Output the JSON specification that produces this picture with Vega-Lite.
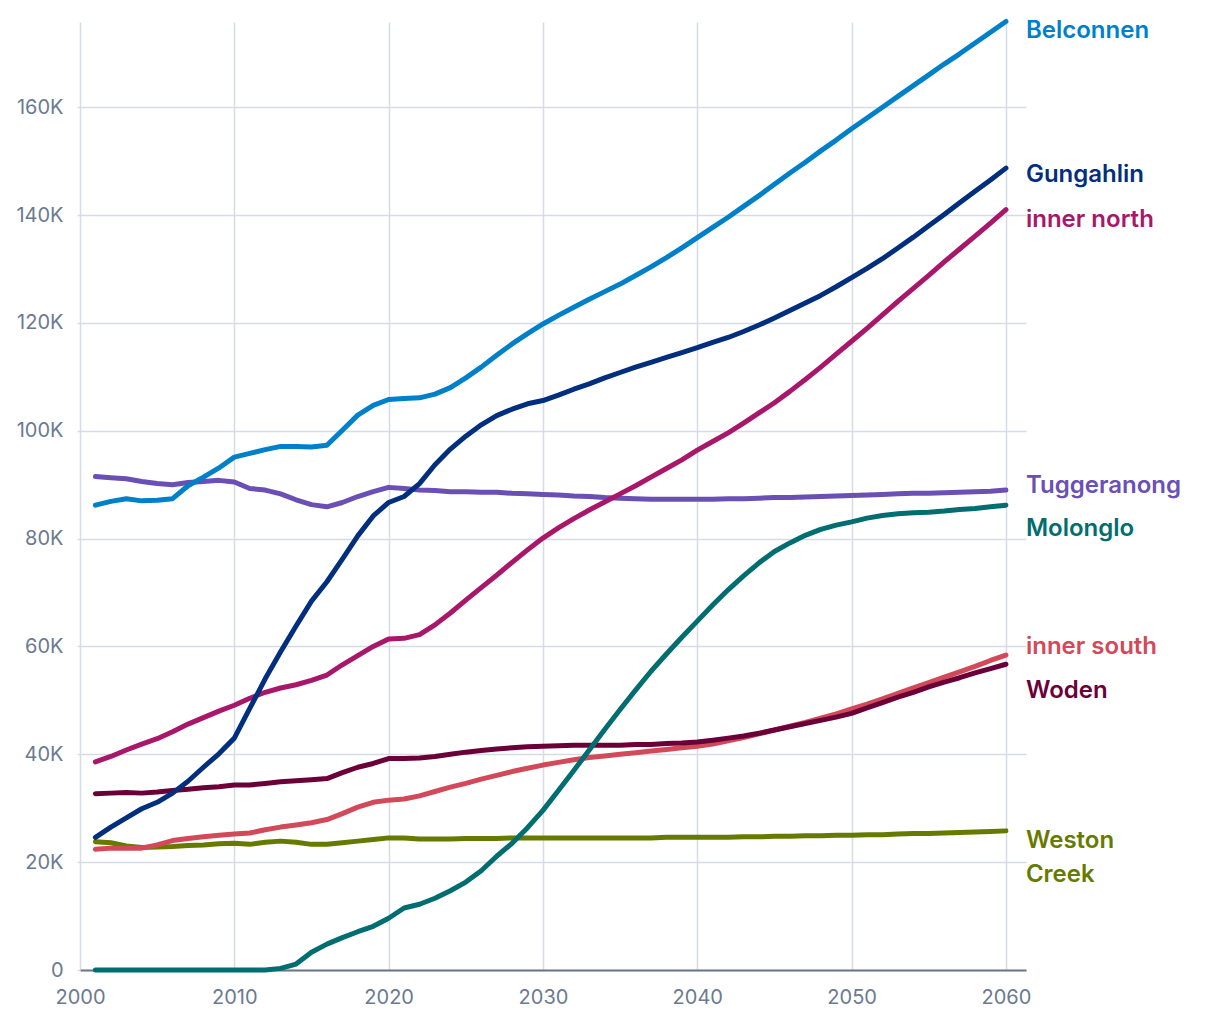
{
  "$schema": "https://vega.github.io/schema/vega-lite/v6.json",
  "width": 946,
  "height": 948,
  "autosize": {"type": "none"},
  "padding": {"left": 80, "top": 22, "right": 194, "bottom": 50},
  "config": {"view": {"stroke": null}, "font": "Inter"},
  "data": {"values": [
    {"year":2001,"Belconnen":86.2,"Gungahlin":24.6,"inner north":38.6,"Tuggeranong":91.5,"Molonglo":0,"inner south":22.4,"Woden":32.7,"Weston Creek":23.8},
    {"year":2002,"Belconnen":86.9,"Gungahlin":26.5,"inner north":39.6,"Tuggeranong":91.3,"Molonglo":0,"inner south":22.6,"Woden":32.8,"Weston Creek":23.6},
    {"year":2003,"Belconnen":87.4,"Gungahlin":28.2,"inner north":40.8,"Tuggeranong":91.1,"Molonglo":0,"inner south":22.6,"Woden":32.9,"Weston Creek":23.0},
    {"year":2004,"Belconnen":87.0,"Gungahlin":29.9,"inner north":41.9,"Tuggeranong":90.6,"Molonglo":0,"inner south":22.6,"Woden":32.8,"Weston Creek":22.7},
    {"year":2005,"Belconnen":87.1,"Gungahlin":31.1,"inner north":42.9,"Tuggeranong":90.2,"Molonglo":0,"inner south":23.2,"Woden":33.0,"Weston Creek":22.8},
    {"year":2006,"Belconnen":87.4,"Gungahlin":32.8,"inner north":44.2,"Tuggeranong":90.0,"Molonglo":0,"inner south":24.0,"Woden":33.3,"Weston Creek":22.9},
    {"year":2007,"Belconnen":89.8,"Gungahlin":35.0,"inner north":45.6,"Tuggeranong":90.4,"Molonglo":0,"inner south":24.4,"Woden":33.5,"Weston Creek":23.1},
    {"year":2008,"Belconnen":91.4,"Gungahlin":37.6,"inner north":46.8,"Tuggeranong":90.6,"Molonglo":0,"inner south":24.7,"Woden":33.8,"Weston Creek":23.2},
    {"year":2009,"Belconnen":93.1,"Gungahlin":40.1,"inner north":48.0,"Tuggeranong":90.8,"Molonglo":0,"inner south":25.0,"Woden":34.0,"Weston Creek":23.4},
    {"year":2010,"Belconnen":95.1,"Gungahlin":43.0,"inner north":49.1,"Tuggeranong":90.5,"Molonglo":0,"inner south":25.2,"Woden":34.3,"Weston Creek":23.5},
    {"year":2011,"Belconnen":95.8,"Gungahlin":48.5,"inner north":50.4,"Tuggeranong":89.3,"Molonglo":0,"inner south":25.4,"Woden":34.3,"Weston Creek":23.3},
    {"year":2012,"Belconnen":96.5,"Gungahlin":54.0,"inner north":51.5,"Tuggeranong":89.0,"Molonglo":0,"inner south":26.0,"Woden":34.6,"Weston Creek":23.7},
    {"year":2013,"Belconnen":97.1,"Gungahlin":59.0,"inner north":52.3,"Tuggeranong":88.3,"Molonglo":0.3,"inner south":26.5,"Woden":34.9,"Weston Creek":23.9},
    {"year":2014,"Belconnen":97.1,"Gungahlin":63.8,"inner north":52.9,"Tuggeranong":87.2,"Molonglo":1.1,"inner south":26.9,"Woden":35.1,"Weston Creek":23.7},
    {"year":2015,"Belconnen":97.0,"Gungahlin":68.4,"inner north":53.7,"Tuggeranong":86.3,"Molonglo":3.3,"inner south":27.3,"Woden":35.3,"Weston Creek":23.3},
    {"year":2016,"Belconnen":97.3,"Gungahlin":72.0,"inner north":54.7,"Tuggeranong":85.9,"Molonglo":4.8,"inner south":27.9,"Woden":35.5,"Weston Creek":23.3},
    {"year":2017,"Belconnen":100.1,"Gungahlin":76.2,"inner north":56.6,"Tuggeranong":86.7,"Molonglo":6.0,"inner south":29.0,"Woden":36.6,"Weston Creek":23.6},
    {"year":2018,"Belconnen":102.9,"Gungahlin":80.5,"inner north":58.3,"Tuggeranong":87.8,"Molonglo":7.1,"inner south":30.2,"Woden":37.6,"Weston Creek":23.9},
    {"year":2019,"Belconnen":104.7,"Gungahlin":84.2,"inner north":60.0,"Tuggeranong":88.7,"Molonglo":8.1,"inner south":31.1,"Woden":38.3,"Weston Creek":24.2},
    {"year":2020,"Belconnen":105.8,"Gungahlin":86.7,"inner north":61.4,"Tuggeranong":89.5,"Molonglo":9.6,"inner south":31.5,"Woden":39.2,"Weston Creek":24.5},
    {"year":2021,"Belconnen":106.0,"Gungahlin":87.8,"inner north":61.5,"Tuggeranong":89.3,"Molonglo":11.5,"inner south":31.7,"Woden":39.2,"Weston Creek":24.5},
    {"year":2022,"Belconnen":106.1,"Gungahlin":90.2,"inner north":62.2,"Tuggeranong":89.0,"Molonglo":12.2,"inner south":32.3,"Woden":39.3,"Weston Creek":24.3},
    {"year":2023,"Belconnen":106.8,"Gungahlin":93.7,"inner north":64.0,"Tuggeranong":88.9,"Molonglo":13.3,"inner south":33.1,"Woden":39.6,"Weston Creek":24.3},
    {"year":2024,"Belconnen":108.0,"Gungahlin":96.6,"inner north":66.2,"Tuggeranong":88.7,"Molonglo":14.7,"inner south":33.9,"Woden":40.0,"Weston Creek":24.3},
    {"year":2025,"Belconnen":109.8,"Gungahlin":99.0,"inner north":68.6,"Tuggeranong":88.7,"Molonglo":16.3,"inner south":34.6,"Woden":40.4,"Weston Creek":24.4},
    {"year":2026,"Belconnen":111.8,"Gungahlin":101.1,"inner north":70.9,"Tuggeranong":88.6,"Molonglo":18.4,"inner south":35.4,"Woden":40.7,"Weston Creek":24.4},
    {"year":2027,"Belconnen":114.0,"Gungahlin":102.8,"inner north":73.2,"Tuggeranong":88.6,"Molonglo":21.1,"inner south":36.1,"Woden":41.0,"Weston Creek":24.4},
    {"year":2028,"Belconnen":116.1,"Gungahlin":104.0,"inner north":75.6,"Tuggeranong":88.4,"Molonglo":23.5,"inner south":36.8,"Woden":41.2,"Weston Creek":24.5},
    {"year":2029,"Belconnen":118.0,"Gungahlin":105.0,"inner north":77.9,"Tuggeranong":88.3,"Molonglo":26.4,"inner south":37.4,"Woden":41.4,"Weston Creek":24.5},
    {"year":2030,"Belconnen":119.8,"Gungahlin":105.6,"inner north":80.1,"Tuggeranong":88.2,"Molonglo":29.6,"inner south":38.0,"Woden":41.5,"Weston Creek":24.5},
    {"year":2031,"Belconnen":121.4,"Gungahlin":106.6,"inner north":82.0,"Tuggeranong":88.1,"Molonglo":33.3,"inner south":38.5,"Woden":41.6,"Weston Creek":24.5},
    {"year":2032,"Belconnen":122.9,"Gungahlin":107.7,"inner north":83.7,"Tuggeranong":87.9,"Molonglo":37.0,"inner south":39.0,"Woden":41.7,"Weston Creek":24.5},
    {"year":2033,"Belconnen":124.4,"Gungahlin":108.7,"inner north":85.3,"Tuggeranong":87.8,"Molonglo":40.8,"inner south":39.4,"Woden":41.7,"Weston Creek":24.5},
    {"year":2034,"Belconnen":125.8,"Gungahlin":109.8,"inner north":86.8,"Tuggeranong":87.6,"Molonglo":44.6,"inner south":39.7,"Woden":41.7,"Weston Creek":24.5},
    {"year":2035,"Belconnen":127.2,"Gungahlin":110.8,"inner north":88.3,"Tuggeranong":87.5,"Molonglo":48.3,"inner south":40.0,"Woden":41.7,"Weston Creek":24.5},
    {"year":2036,"Belconnen":128.8,"Gungahlin":111.8,"inner north":89.8,"Tuggeranong":87.4,"Molonglo":51.9,"inner south":40.3,"Woden":41.8,"Weston Creek":24.5},
    {"year":2037,"Belconnen":130.4,"Gungahlin":112.7,"inner north":91.4,"Tuggeranong":87.3,"Molonglo":55.4,"inner south":40.6,"Woden":41.8,"Weston Creek":24.5},
    {"year":2038,"Belconnen":132.1,"Gungahlin":113.6,"inner north":93.0,"Tuggeranong":87.3,"Molonglo":58.6,"inner south":40.9,"Woden":42.0,"Weston Creek":24.6},
    {"year":2039,"Belconnen":133.9,"Gungahlin":114.5,"inner north":94.6,"Tuggeranong":87.3,"Molonglo":61.7,"inner south":41.2,"Woden":42.1,"Weston Creek":24.6},
    {"year":2040,"Belconnen":135.8,"Gungahlin":115.4,"inner north":96.4,"Tuggeranong":87.3,"Molonglo":64.7,"inner south":41.5,"Woden":42.3,"Weston Creek":24.6},
    {"year":2041,"Belconnen":137.7,"Gungahlin":116.4,"inner north":98.0,"Tuggeranong":87.3,"Molonglo":67.7,"inner south":41.9,"Woden":42.6,"Weston Creek":24.6},
    {"year":2042,"Belconnen":139.6,"Gungahlin":117.3,"inner north":99.6,"Tuggeranong":87.4,"Molonglo":70.5,"inner south":42.5,"Woden":43.0,"Weston Creek":24.6},
    {"year":2043,"Belconnen":141.6,"Gungahlin":118.4,"inner north":101.4,"Tuggeranong":87.4,"Molonglo":73.1,"inner south":43.1,"Woden":43.4,"Weston Creek":24.7},
    {"year":2044,"Belconnen":143.6,"Gungahlin":119.6,"inner north":103.3,"Tuggeranong":87.5,"Molonglo":75.5,"inner south":43.8,"Woden":43.9,"Weston Creek":24.7},
    {"year":2045,"Belconnen":145.7,"Gungahlin":120.9,"inner north":105.2,"Tuggeranong":87.6,"Molonglo":77.6,"inner south":44.5,"Woden":44.5,"Weston Creek":24.8},
    {"year":2046,"Belconnen":147.8,"Gungahlin":122.3,"inner north":107.3,"Tuggeranong":87.6,"Molonglo":79.2,"inner south":45.2,"Woden":45.1,"Weston Creek":24.8},
    {"year":2047,"Belconnen":149.8,"Gungahlin":123.7,"inner north":109.5,"Tuggeranong":87.7,"Molonglo":80.6,"inner south":45.9,"Woden":45.7,"Weston Creek":24.9},
    {"year":2048,"Belconnen":151.9,"Gungahlin":125.1,"inner north":111.8,"Tuggeranong":87.8,"Molonglo":81.7,"inner south":46.7,"Woden":46.3,"Weston Creek":24.9},
    {"year":2049,"Belconnen":153.9,"Gungahlin":126.7,"inner north":114.2,"Tuggeranong":87.9,"Molonglo":82.5,"inner south":47.5,"Woden":46.9,"Weston Creek":25.0},
    {"year":2050,"Belconnen":156.0,"Gungahlin":128.4,"inner north":116.6,"Tuggeranong":88.0,"Molonglo":83.1,"inner south":48.4,"Woden":47.6,"Weston Creek":25.0},
    {"year":2051,"Belconnen":158.0,"Gungahlin":130.1,"inner north":119.0,"Tuggeranong":88.1,"Molonglo":83.8,"inner south":49.3,"Woden":48.6,"Weston Creek":25.1},
    {"year":2052,"Belconnen":160.0,"Gungahlin":131.9,"inner north":121.5,"Tuggeranong":88.2,"Molonglo":84.3,"inner south":50.3,"Woden":49.6,"Weston Creek":25.1},
    {"year":2053,"Belconnen":162.0,"Gungahlin":133.9,"inner north":124.0,"Tuggeranong":88.3,"Molonglo":84.6,"inner south":51.3,"Woden":50.6,"Weston Creek":25.2},
    {"year":2054,"Belconnen":164.0,"Gungahlin":135.9,"inner north":126.4,"Tuggeranong":88.4,"Molonglo":84.8,"inner south":52.3,"Woden":51.5,"Weston Creek":25.3},
    {"year":2055,"Belconnen":166.0,"Gungahlin":138.0,"inner north":128.8,"Tuggeranong":88.4,"Molonglo":84.9,"inner south":53.3,"Woden":52.5,"Weston Creek":25.3},
    {"year":2056,"Belconnen":168.0,"Gungahlin":140.1,"inner north":131.3,"Tuggeranong":88.5,"Molonglo":85.1,"inner south":54.3,"Woden":53.4,"Weston Creek":25.4},
    {"year":2057,"Belconnen":169.9,"Gungahlin":142.3,"inner north":133.7,"Tuggeranong":88.6,"Molonglo":85.4,"inner south":55.3,"Woden":54.2,"Weston Creek":25.5},
    {"year":2058,"Belconnen":171.9,"Gungahlin":144.4,"inner north":136.1,"Tuggeranong":88.7,"Molonglo":85.6,"inner south":56.3,"Woden":55.1,"Weston Creek":25.6},
    {"year":2059,"Belconnen":173.9,"Gungahlin":146.5,"inner north":138.5,"Tuggeranong":88.8,"Molonglo":85.9,"inner south":57.4,"Woden":55.9,"Weston Creek":25.7},
    {"year":2060,"Belconnen":175.9,"Gungahlin":148.7,"inner north":141.0,"Tuggeranong":89.0,"Molonglo":86.2,"inner south":58.4,"Woden":56.7,"Weston Creek":25.8}
  ]},
  "transform": [
    {"fold": ["Tuggeranong", "Weston Creek", "inner south", "Woden", "inner north", "Belconnen", "Gungahlin", "Molonglo"], "as": ["region", "population"]}
  ],
  "encoding": {
    "x": {
      "field": "year", "type": "quantitative",
      "scale": {"domain": [2000, 2061.3], "nice": false, "zero": false},
      "axis": {"title": null, "values": [2000, 2010, 2020, 2030, 2040, 2050, 2060], "format": "d",
        "grid": true, "gridColor": "#d6dce5", "gridWidth": 1.5, "ticks": false,
        "domainColor": "#6b7789", "domainWidth": 2, "labelFlush": false,
        "labelFontSize": 20, "labelColor": "#6b7a90", "labelPadding": 17, "labelFont": "Inter"}
    },
    "y": {
      "field": "population", "type": "quantitative",
      "scale": {"domain": [0, 175.8], "nice": false},
      "axis": {"title": null, "values": [0, 20, 40, 60, 80, 100, 120, 140, 160],
        "labelExpr": "datum.value == 0 ? '0' : datum.value + 'K'",
        "grid": true, "gridColor": "#d6dce5", "gridWidth": 1.5, "domain": false,
        "ticks": true, "tickSize": 3, "tickColor": "#d6dce5", "tickWidth": 1.5,
        "labelFontSize": 20, "labelColor": "#6b7a90", "labelPadding": 14, "labelFont": "Inter"}
    },
    "color": {
      "field": "region", "type": "nominal", "legend": null,
      "scale": {
        "domain": ["Belconnen", "Gungahlin", "inner north", "Tuggeranong", "Molonglo", "inner south", "Woden", "Weston Creek"],
        "range": ["#0080c9", "#022e7e", "#a8176a", "#6a4fb4", "#006d70", "#d24a59", "#6b0038", "#667a00"]
      }
    }
  },
  "layer": [
    {"mark": {"type": "line", "strokeWidth": 5, "strokeCap": "round", "strokeJoin": "round"}},
    {"transform": [{"filter": "datum.year == 2060 && (datum.region == 'Belconnen' || datum.region == 'inner north')"}],
     "mark": {"type": "text", "align": "left", "baseline": "middle", "dx": 20, "dy": 10, "fontSize": 24, "fontWeight": 600, "font": "Inter"},
     "encoding": {"text": {"field": "region"}}},
    {"transform": [{"filter": "datum.year == 2060 && datum.region == 'Gungahlin'"}],
     "mark": {"type": "text", "align": "left", "baseline": "middle", "dx": 20, "dy": 7, "fontSize": 24, "fontWeight": 600, "font": "Inter"},
     "encoding": {"text": {"field": "region"}}},
    {"transform": [{"filter": "datum.year == 2060 && datum.region == 'Tuggeranong'"}],
     "mark": {"type": "text", "align": "left", "baseline": "middle", "dx": 20, "dy": -4, "fontSize": 24, "fontWeight": 600, "font": "Inter"},
     "encoding": {"text": {"field": "region"}}},
    {"transform": [{"filter": "datum.year == 2060 && datum.region == 'Molonglo'"}],
     "mark": {"type": "text", "align": "left", "baseline": "middle", "dx": 20, "dy": 24, "fontSize": 24, "fontWeight": 600, "font": "Inter"},
     "encoding": {"text": {"field": "region"}}},
    {"transform": [{"filter": "datum.year == 2060 && datum.region == 'inner south'"}],
     "mark": {"type": "text", "align": "left", "baseline": "middle", "dx": 20, "dy": -8, "fontSize": 24, "fontWeight": 600, "font": "Inter"},
     "encoding": {"text": {"field": "region"}}},
    {"transform": [{"filter": "datum.year == 2060 && datum.region == 'Woden'"}],
     "mark": {"type": "text", "align": "left", "baseline": "middle", "dx": 20, "dy": 27, "fontSize": 24, "fontWeight": 600, "font": "Inter"},
     "encoding": {"text": {"field": "region"}}},
    {"transform": [{"filter": "datum.year == 2060 && datum.region == 'Weston Creek'"}],
     "mark": {"type": "text", "align": "left", "baseline": "middle", "dx": 20, "dy": 10, "fontSize": 24, "fontWeight": 600, "font": "Inter", "text": ["Weston", "Creek"], "lineHeight": 34}}
  ]
}
